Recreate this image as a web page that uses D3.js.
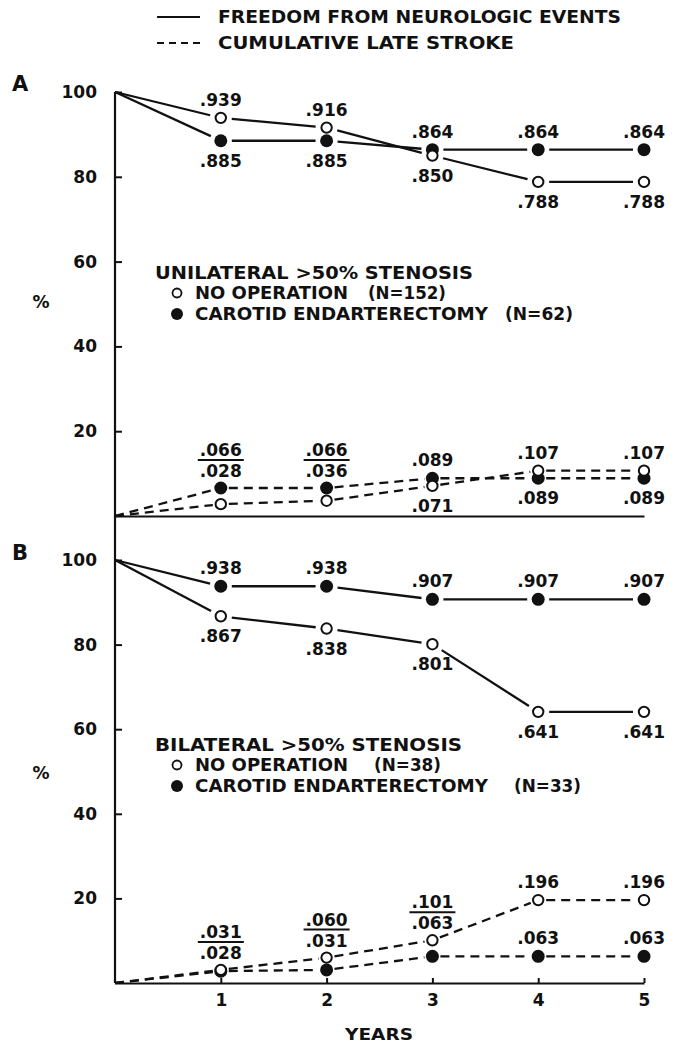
<!DOCTYPE html>
<html>
<head>
<meta charset="utf-8">
<script src="https://cdn.jsdelivr.net/npm/d3@7"></script>
<style>
	body { margin: 0; background: #fff; }
	text { font-family: 'DejaVu Sans', 'Liberation Sans', sans-serif; font-weight: bold; fill: #111; }
</style>
</head>
<body>
<script>
'use strict'

const years = [0, 1, 2, 3, 4, 5];
const xTicks = [1, 2, 3, 4, 5];
const yTicks = [20, 40, 60, 80, 100];

// panel A - unilateral
const uniFreeNoOp = [100, 93.9, 91.6, 85.0, 78.8, 78.8];
const uniFreeCea = [100, 88.5, 88.5, 86.4, 86.4, 86.4];
const uniStrokeNoOp = [0, 2.8, 3.6, 7.1, 10.7, 10.7];
const uniStrokeCea = [0, 6.6, 6.6, 8.9, 8.9, 8.9];

// panel B - bilateral
const biFreeNoOp = [100, 86.7, 83.8, 80.1, 64.1, 64.1];
const biFreeCea = [100, 93.8, 93.8, 90.7, 90.7, 90.7];
const biStrokeNoOp = [0, 3.1, 6.0, 10.1, 19.6, 19.6];
const biStrokeCea = [0, 2.8, 3.1, 6.3, 6.3, 6.3];

const legendLabels = ["FREEDOM FROM NEUROLOGIC EVENTS", "CUMULATIVE LATE STROKE"];
const groupLabels = ["UNILATERAL >50% STENOSIS", "BILATERAL >50% STENOSIS"];
const armLabels = ["NO OPERATION", "CAROTID ENDARTERECTOMY"];
const uniCounts = ["(N=152)", "(N=62)"];
const biCounts = ["(N=38)", "(N=33)"];

const w = 676;
const h = 1047;

const svg = d3.select("body")
	.append("svg")
	.attr("width", w)
	.attr("height", h);

const xScale = d3.scaleLinear().domain([0, 5]).range([115, 644]);
const yA = d3.scaleLinear().domain([0, 100]).range([516, 92]);
const yB = d3.scaleLinear().domain([0, 100]).range([983, 560]);

const fmt = (v) => d3.format(".3f")(v / 100).replace(/^0/, "");

const txt = (x, y, s, size, len, anchor) => {
	const t = svg.append("text")
		.attr("x", x)
		.attr("y", y)
		.attr("dy", "0.36em")
		.attr("font-size", size)
		.attr("text-anchor", anchor || "start")
		.text(s);
	if (len) t.attr("textLength", len).attr("lengthAdjust", "spacingAndGlyphs");
	return t;
};

// legend
svg.append("line").attr("x1", 157).attr("x2", 200).attr("y1", 17).attr("y2", 17)
	.attr("stroke", "#111").attr("stroke-width", 2.2);
svg.append("line").attr("x1", 157).attr("x2", 200).attr("y1", 43).attr("y2", 43)
	.attr("stroke", "#111").attr("stroke-width", 2.2).attr("stroke-dasharray", "7,5");
txt(218, 17, legendLabels[0], 17, 403);
txt(218, 43, legendLabels[1], 17, 296);

// axes
const yAxisA = d3.axisLeft(yA).tickValues(yTicks).tickSizeInner(-7).tickSizeOuter(0).tickPadding(18);
const yAxisB = d3.axisLeft(yB).tickValues(yTicks).tickSizeInner(-7).tickSizeOuter(0).tickPadding(18);

[yAxisA, yAxisB].forEach((ax) => {
	const g = svg.append("g")
		.attr("transform", "translate(" + xScale(0) + ",0)")
		.call(ax);
	g.select(".domain").remove();
	g.selectAll("line").attr("stroke", "#111").attr("stroke-width", 2);
	g.selectAll("text").attr("font-size", 17).attr("font-family", null);
});

svg.append("line")
	.attr("x1", xScale(0)).attr("x2", xScale(0))
	.attr("y1", yA(100)).attr("y2", yB(0))
	.attr("stroke", "#111").attr("stroke-width", 2.2);

const xAxisA = d3.axisBottom(xScale).tickValues([]).tickSizeOuter(0);
const xAxisB = d3.axisBottom(xScale).tickValues(xTicks).tickSizeInner(-5).tickSizeOuter(0).tickPadding(11)
	.tickFormat(d3.format("d"));

svg.append("g")
	.attr("transform", "translate(0," + yA(0) + ")")
	.call(xAxisA)
	.select(".domain").attr("stroke", "#111").attr("stroke-width", 2.2);

const gx = svg.append("g")
	.attr("transform", "translate(0," + yB(0) + ")")
	.call(xAxisB);
gx.select(".domain").attr("stroke", "#111").attr("stroke-width", 2.2);
gx.selectAll("line").attr("stroke", "#111").attr("stroke-width", 2);
gx.selectAll("text").attr("font-size", 17).attr("font-family", null);

txt(379, 1034, "YEARS", 16, 68, "middle");

txt(12, 83, "A", 21);
txt(12, 552, "B", 21);
txt(41, 302, "%", 17, null, "middle");
txt(41, 773, "%", 17, null, "middle");

// series lines, trimmed short of the markers
const drawLine = (y, values, dashed, trim) => {
	const pts = values.map((v, i) => [xScale(years[i]), y(v)]);
	const segs = d3.pairs(pts).map(([p0, p1], i) => {
		const dx = p1[0] - p0[0], dy = p1[1] - p0[1];
		const len = Math.hypot(dx, dy);
		const t0 = i === 0 ? 0 : trim / len;
		const t1 = 1 - trim / len;
		return [p0[0] + dx * t0, p0[1] + dy * t0, p0[0] + dx * t1, p0[1] + dy * t1];
	});
	svg.append("g")
		.selectAll("line")
		.data(segs)
		.enter()
		.append("line")
		.attr("x1", (d) => d[0])
		.attr("y1", (d) => d[1])
		.attr("x2", (d) => d[2])
		.attr("y2", (d) => d[3])
		.attr("stroke", "#111")
		.attr("stroke-width", 2.3)
		.attr("stroke-dasharray", dashed ? "9,6" : null);
};

const drawMarks = (y, values, filled) => {
	svg.append("g")
		.selectAll("circle")
		.data(values.slice(1))
		.enter()
		.append("circle")
		.attr("cx", (d, i) => xScale(years[i + 1]))
		.attr("cy", (d) => y(d))
		.attr("r", filled ? 6.5 : 5.2)
		.attr("fill", filled ? "#111" : "#fff")
		.attr("stroke", "#111")
		.attr("stroke-width", filled ? 0 : 2);
};

// value labels: 'a' above, 'b' below, 'f' fraction (shared by both series)
const drawLabels = (y, values, place) => {
	values.forEach((v, i) => {
		if (place[i] === "a") txt(xScale(years[i]), y(v) - 18, fmt(v), 17, null, "middle");
		if (place[i] === "b") txt(xScale(years[i]), y(v) + 20, fmt(v), 17, null, "middle");
	});
};

const drawFractions = (y, a, b, place) => {
	a.forEach((v, i) => {
		if (place[i] !== "f") return;
		const hi = Math.max(v, b[i]);
		const lo = Math.min(v, b[i]);
		const cx = xScale(years[i]);
		const den = y(hi) - 17;
		txt(cx, den - 21, fmt(hi), 17, null, "middle");
		txt(cx, den, fmt(lo), 17, null, "middle");
		svg.append("line")
			.attr("x1", cx - 23).attr("x2", cx + 23)
			.attr("y1", den - 11).attr("y2", den - 11)
			.attr("stroke", "#111").attr("stroke-width", 2);
	});
};

// panel A
drawLine(yA, uniFreeNoOp, false, 11);
drawLine(yA, uniFreeCea, false, 11);
drawLine(yA, uniStrokeNoOp, true, 8);
drawLine(yA, uniStrokeCea, true, 8);
drawMarks(yA, uniFreeCea, true);
drawMarks(yA, uniFreeNoOp, false);
drawMarks(yA, uniStrokeCea, true);
drawMarks(yA, uniStrokeNoOp, false);
drawLabels(yA, uniFreeNoOp, ["", "a", "a", "b", "b", "b"]);
drawLabels(yA, uniFreeCea, ["", "b", "b", "a", "a", "a"]);
drawLabels(yA, uniStrokeNoOp, ["", "", "", "b", "a", "a"]);
drawLabels(yA, uniStrokeCea, ["", "", "", "a", "b", "b"]);
drawFractions(yA, uniStrokeNoOp, uniStrokeCea, ["", "f", "f", "", "", ""]);

// panel B
drawLine(yB, biFreeNoOp, false, 11);
drawLine(yB, biFreeCea, false, 11);
drawLine(yB, biStrokeNoOp, true, 8);
drawLine(yB, biStrokeCea, true, 8);
drawMarks(yB, biFreeCea, true);
drawMarks(yB, biFreeNoOp, false);
drawMarks(yB, biStrokeCea, true);
drawMarks(yB, biStrokeNoOp, false);
drawLabels(yB, biFreeNoOp, ["", "b", "b", "b", "b", "b"]);
drawLabels(yB, biFreeCea, ["", "a", "a", "a", "a", "a"]);
drawLabels(yB, biStrokeNoOp, ["", "", "", "", "a", "a"]);
drawLabels(yB, biStrokeCea, ["", "", "", "", "a", "a"]);
drawFractions(yB, biStrokeNoOp, biStrokeCea, ["", "f", "f", "f", "", ""]);

// group keys
const drawKey = (top, title, titleLen, counts, countPos) => {
	txt(155, top, title, 17, titleLen);
	svg.append("circle").attr("cx", 177).attr("cy", top + 20).attr("r", 4.5)
		.attr("fill", "#fff").attr("stroke", "#111").attr("stroke-width", 1.8);
	svg.append("circle").attr("cx", 177).attr("cy", top + 41).attr("r", 6)
		.attr("fill", "#111");
	txt(195, top + 20, armLabels[0], 17, 153);
	txt(195, top + 41, armLabels[1], 17, 293);
	txt(countPos[0], top + 20, counts[0], 17, countPos[1]);
	txt(countPos[2], top + 41, counts[1], 17, countPos[3]);
};

drawKey(273, groupLabels[0], 318, uniCounts, [368, 78, 505, 68]);
drawKey(745, groupLabels[1], 307, biCounts, [374, 67, 514, 67]);
</script>
</body>
</html>
